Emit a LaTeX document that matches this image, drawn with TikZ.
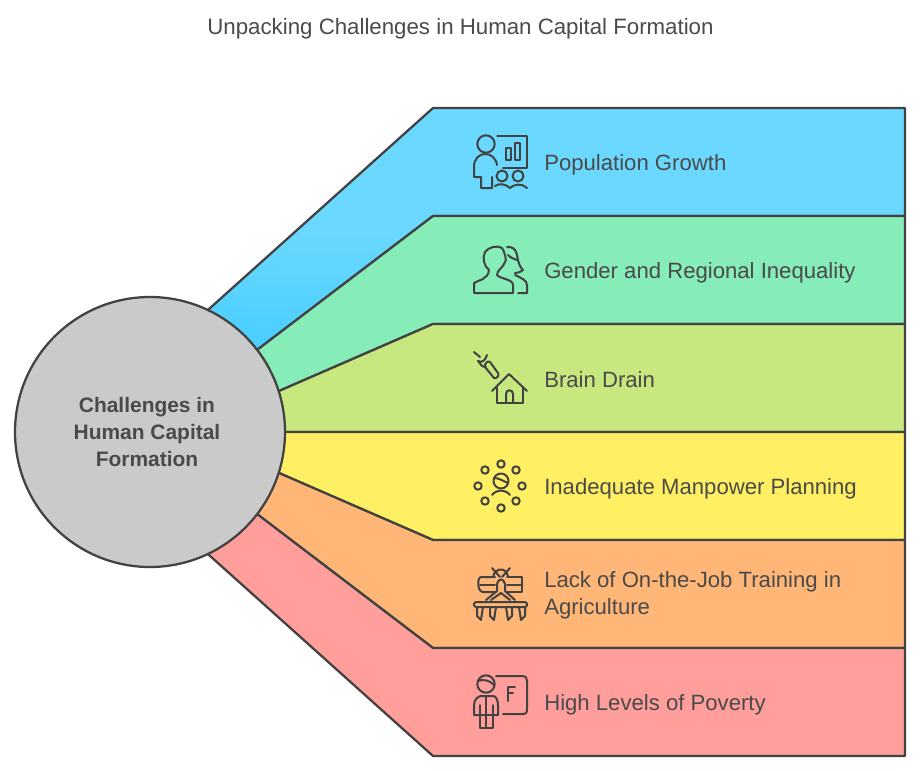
\documentclass[tikz,border=0pt]{standalone}
\usepackage{fontspec}
\setmainfont{Liberation Sans}
\definecolor{inkline}{HTML}{424242}
\definecolor{inktext}{HTML}{4A4A4A}
\definecolor{bandblue}{HTML}{6AD8FF}
\definecolor{bandblueb}{HTML}{4CCFFF}
\definecolor{bandgreen}{HTML}{86ECB8}
\definecolor{bandlime}{HTML}{C6E87E}
\definecolor{bandyellow}{HTML}{FFF063}
\definecolor{bandorange}{HTML}{FFB677}
\definecolor{bandred}{HTML}{FF9E9B}
\definecolor{hubgray}{HTML}{CACACA}
\tikzset{
  band/.style={draw=inkline,line width=1.7pt,line join=round},
  hub/.style={circle,draw=inkline,line width=1.7pt,fill=hubgray,minimum size=202.5pt,inner sep=0pt},
  hubtext/.style={inner sep=0pt,align=center,font=\bfseries\fontsize{15.7}{20.25}\selectfont,text=inktext},
  lbl/.style={anchor=west,align=left,inner sep=0pt,font=\fontsize{16.6}{20.25}\selectfont,text=inktext},
  ico/.style={draw=inkline,line width=1.5pt,line cap=round,line join=round}
}
\begin{document}
\begin{tikzpicture}[x=0.75pt,y=-0.75pt]
\useasboundingbox (0,0) rectangle (921,771);
\node[inner sep=0pt,font=\fontsize{16.7}{20}\selectfont,text=inktext] (title) at (460.5,29) {Unpacking Challenges in Human Capital Formation};
% bands, top to bottom
\fill[bandblue] (150,432) -- (209,309) -- (433,108) -- (905,108) -- (905,216) -- (433,216) -- (257,350) -- cycle;
\begin{scope}
  \clip (150,432) -- (209,309) -- (433,108) -- (905,108) -- (905,216) -- (433,216) -- (257,350) -- cycle;
  \shade[top color=bandblue,bottom color=bandblueb] (190,235) rectangle (440,335);
  \fill[bandblueb] (190,334.5) rectangle (440,440);
\end{scope}
\draw[band] (150,432) -- (209,309) -- (433,108) -- (905,108) -- (905,216) -- (433,216) -- (257,350) -- cycle;
\draw[band,fill=bandgreen] (150,432) -- (257,350) -- (433,216) -- (905,216) -- (905,324) -- (433,324) -- (279,391) -- cycle;
\draw[band,fill=bandlime] (150,432) -- (279,391) -- (433,324) -- (905,324) -- (905,432) -- (285,432) -- cycle;
\draw[band,fill=bandyellow] (150,432) -- (285,432) -- (905,432) -- (905,540) -- (433,540) -- (279,473) -- cycle;
\draw[band,fill=bandorange] (150,432) -- (279,473) -- (433,540) -- (905,540) -- (905,648) -- (433,648) -- (257,514) -- cycle;
\draw[band,fill=bandred] (150,432) -- (257,514) -- (433,648) -- (905,648) -- (905,756) -- (433,756) -- (209,555) -- cycle;
\node[hub] (hub) at (150,432) {};
\node[hubtext] (hublabel) at (147,432.5) {Challenges in\\Human Capital\\Formation};
% labels
\node[lbl] (growth) at (544,164.5) {Population Growth};
\node[lbl] (gender) at (544,272.5) {Gender and Regional Inequality};
\node[lbl] (drain) at (544,379.5) {Brain Drain};
\node[lbl] (manpower) at (544,488.5) {Inadequate Manpower Planning};
\node[lbl] (training) at (544,595.5) {Lack of On-the-Job Training in\\Agriculture};
\node[lbl] (poverty) at (544,704.5) {High Levels of Poverty};
% icon: presenter
\draw[ico] (486,144) circle (8.7);
\draw[ico] (497,136) -- (527,136) -- (527,168) -- (503,168);
\draw[ico] (506,148) rectangle (511,160) (515,143) rectangle (520,160);
\draw[ico] (497,165) .. controls (495,150) and (474,150) .. (474,167) -- (474,177) -- (481,177) -- (481,188) -- (492,188) -- (492,177);
\draw[ico] (502,176) circle (5.5) (518,176) circle (5.5);
\draw[ico] (495,186) .. controls (499,183) and (506,184) .. (510,188) .. controls (514,184) and (522,183) .. (527,188);
% icon: two heads
\draw[ico] (474,293) -- (474,283) .. controls (478,280) and (488,280) .. (489,270) .. controls (484,266) and (482,258) .. (485,252) .. controls (488,247) and (498,245) .. (502,248) .. controls (505,252) and (507,262) .. (505,262) .. controls (503,268) and (497,270) .. (497,275) .. controls (500,279) and (513,279) .. (513,285) -- (513,293) -- cycle;
\draw[ico] (507,247) .. controls (518,246) and (517,258) .. (518,260) .. controls (519,265) and (521,268) .. (523,270) .. controls (521,272) and (518,273) .. (515,273);
\draw[ico] (508,255) .. controls (511,258) and (514,259) .. (517,260);
\draw[ico] (515,275) .. controls (521,278) and (527,280) .. (527,285) -- (527,293) -- (518,293);
% icon: comet and house
\draw[ico] (474,352) -- (480,357);
\draw[ico] (485,367) .. controls (484,364) and (488,360) .. (490,362) -- (498,373) .. controls (500,376) and (496,379) .. (494,378) -- cycle;
\draw[ico] (478,361) .. controls (482,363) and (485,361) .. (487,355) (478,361) .. controls (481,364) and (481,367) .. (486,367);
\draw[ico] (492,391) -- (509,374) -- (527,391);
\draw[ico] (497,387) -- (497,403) -- (523,403) -- (523,387);
\draw[ico] (506,403) -- (506,394) .. controls (506,389) and (513,389) .. (513,394) -- (513,403);
% icon: ring of dots
\foreach \px/\py in {501/464,516/470,522/486,516/501,501/508,485/501,478/486,485/470}
  \draw[ico] (\px,\py) circle (3.7);
\draw[ico] (501,481) circle (7.5);
\draw[ico] (494,478) .. controls (499,478) and (503,481) .. (508,483);
\draw[ico] (492,495) .. controls (497,489) and (505,489) .. (510,495);
% icon: seed drill
\draw[ico] (492,568) -- (500,577) (510,568) -- (502,577);
\draw[ico] (493,577) .. controls (495,567) and (507,567) .. (508,577);
\draw[ico] (495,577) -- (481,577) .. controls (477,577) and (477,592) .. (483,592) -- (495,592);
\draw[ico] (507,577) -- (522,577) -- (522,592) -- (507,592);
\draw[ico] (480,585) -- (495,585) (507,585) -- (522,585);
\draw[ico] (486,600) -- (497,591) -- (497,584) .. controls (498,578) and (504,578) .. (505,584) -- (505,591) -- (515,600);
\draw[ico] (491,600) -- (501,593) -- (510,600);
\draw[ico] (476,602) -- (525,602) .. controls (528,603) and (528,606) .. (525,607) -- (476,607) .. controls (473,606) and (473,603) .. (476,602);
\foreach \px in {477,490}
  \draw[ico] (\px,607) -- (\px,616) -- (\px+4,620) -- (\px+6,607);
\foreach \px in {506,519}
  \draw[ico] (\px,607) -- (\px+2,620) -- (\px+6,616) -- (\px+6,607);
% icon: teacher and board
\draw[ico] (486,684) circle (8.7);
\draw[ico] (478,681) .. controls (482,679) and (490,680) .. (494,685);
\draw[ico] (496,676) -- (522,676) .. controls (526,676) and (527,678) .. (527,681) -- (527,709) .. controls (527,713) and (526,714) .. (522,714) -- (503,714);
\draw[ico] (508,701) -- (508,687) -- (515,687) (508,693) -- (513,693);
\draw[ico] (480,715) -- (474,715) -- (474,705) .. controls (474,700) and (478,696) .. (481,696) -- (493,696) .. controls (496,696) and (498,700) .. (498,705) -- (498,715) -- (493,715);
\draw[ico] (486,696) -- (486,728);
\draw[ico] (480,705) -- (480,728) -- (493,728) -- (493,705);
\draw[ico] (480,715) -- (493,715);
\end{tikzpicture}
\end{document}
